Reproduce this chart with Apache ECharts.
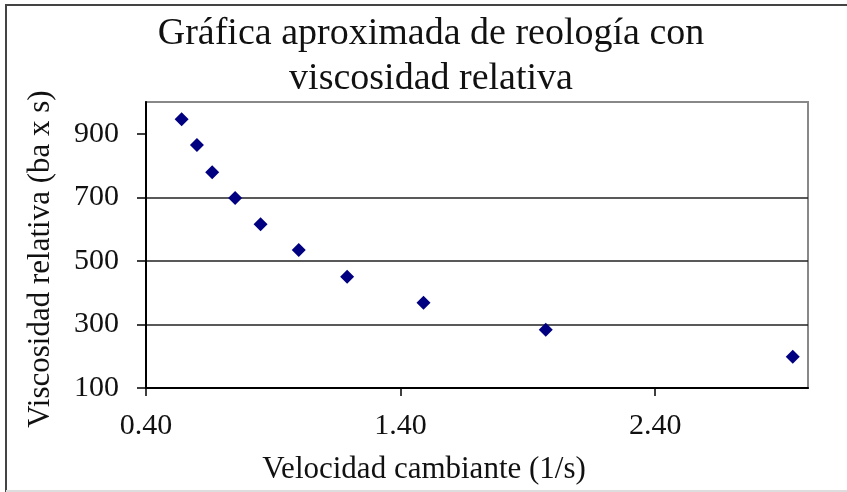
<!DOCTYPE html>
<html>
<head>
    <meta charset="UTF-8">
    <title>Reología</title>
    <script src="https://cdn.jsdelivr.net/npm/echarts@6/dist/echarts.min.js"></script>
    <style>
        html, body { margin: 0; padding: 0; background: #fff; }
        #main { width: 847px; height: 492px; }
    </style>
</head>
<body>
<div id="main"></div>
<script type="text/javascript">
    // datos
    var velocidad = [0.54, 0.60, 0.66, 0.75, 0.85, 1.00, 1.19, 1.49, 1.97, 2.94];
    var viscosidad = [946, 865, 779, 698, 615, 534, 450, 368, 283, 198];
    var xTicks = [0.4, 1.4, 2.4];
    var yTicks = [100, 300, 500, 700, 900];

    var puntos = [];
    for (var i = 0; i < velocidad.length; i++) {
        puntos.push([velocidad[i], viscosidad[i]]);
    }

    var fuente = '"Liberation Serif", "DejaVu Serif", serif';

    var myChart = echarts.init(document.getElementById('main'));
    var option = {
        backgroundColor: '#fff',
        animation: false,
        textStyle: {fontFamily: fuente},
        title: {
            text: 'Gráfica aproximada de reología con\nviscosidad relativa',
            left: 431,
            textAlign: 'center',
            top: 12,
            padding: 0,
            textStyle: {
                fontFamily: fuente,
                fontWeight: 'normal',
                fontSize: 38,
                lineHeight: 45,
                color: '#111'
            }
        },
        grid: {
            left: 146,
            top: 102,
            right: 39,
            bottom: 104,
            show: true,
            borderColor: '#888',
            borderWidth: 2,
            backgroundColor: 'transparent'
        },
        xAxis: {
            type: 'value',
            min: 0.4,
            max: 3.0,
            interval: 1,
            name: 'Velocidad cambiante (1/s)',
            nameLocation: 'middle',
            nameGap: 66,
            nameTextStyle: {
                fontFamily: fuente,
                fontSize: 31,
                color: '#111',
                padding: [0, 106, 0, 0]
            },
            axisLine: {onZero: false, lineStyle: {color: '#000', width: 2}},
            axisTick: {
                show: true,
                inside: false,
                length: 8,
                customValues: xTicks,
                lineStyle: {color: '#000', width: 1.5}
            },
            axisLabel: {
                customValues: xTicks,
                margin: 23,
                fontFamily: fuente,
                fontSize: 30,
                color: '#111',
                formatter: function (v) { return v.toFixed(2); }
            },
            splitLine: {show: false}
        },
        yAxis: {
            type: 'value',
            min: 100,
            max: 1000,
            interval: 200,
            name: 'Viscosidad relativa (ba x s)',
            nameLocation: 'middle',
            nameRotate: 90,
            nameGap: 90,
            nameTextStyle: {
                fontFamily: fuente,
                fontSize: 31,
                color: '#111',
                padding: [0, 28, 0, 0]
            },
            axisLine: {show: true, onZero: false, lineStyle: {color: '#000', width: 2}},
            axisTick: {
                show: true,
                inside: false,
                length: 9,
                customValues: yTicks,
                lineStyle: {color: '#000', width: 1.5}
            },
            axisLabel: {
                customValues: yTicks,
                margin: 27,
                fontFamily: fuente,
                fontSize: 30,
                color: '#111'
            },
            splitLine: {
                show: true,
                showMaxLine: false,
                lineStyle: {color: '#222', width: 1.5}
            }
        },
        graphic: [
            {type: 'line', shape: {x1: 5, y1: 5, x2: 847, y2: 5}, style: {stroke: '#444', lineWidth: 2}},
            {type: 'line', shape: {x1: 6, y1: 5, x2: 6, y2: 492}, style: {stroke: '#444', lineWidth: 2}},
            {type: 'line', shape: {x1: 6, y1: 491, x2: 847, y2: 491}, style: {stroke: '#ddd', lineWidth: 2}}
        ],
        series: [
            {
                name: 'Viscosidad',
                type: 'scatter',
                symbol: 'diamond',
                symbolSize: 14,
                itemStyle: {color: '#000080', opacity: 1},
                data: puntos
            }
        ]
    };
    myChart.setOption(option);
</script>
</body>
</html>
